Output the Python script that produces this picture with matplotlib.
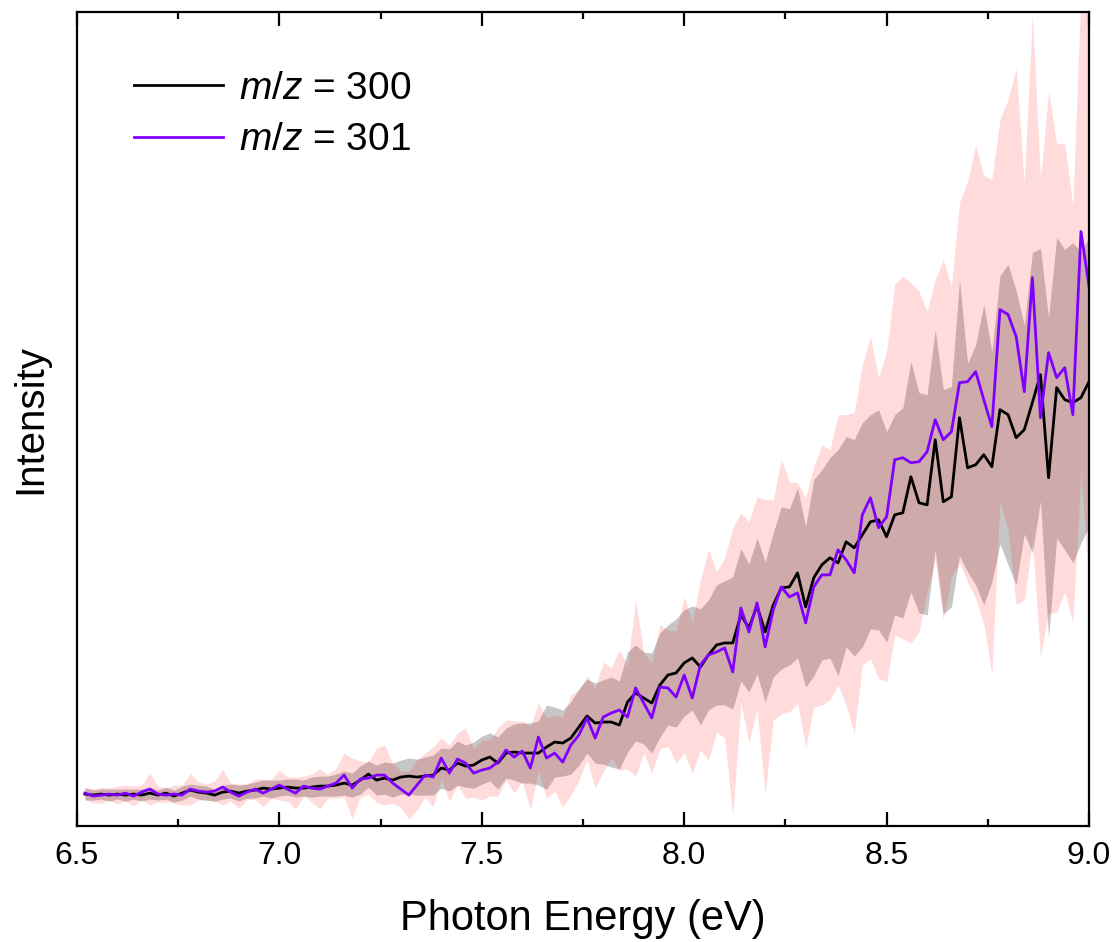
import numpy as np
import matplotlib
matplotlib.use("Agg")
import matplotlib.pyplot as plt
from matplotlib.ticker import MultipleLocator

plt.rcParams['font.family'] = ['Liberation Sans', 'DejaVu Sans']
plt.rcParams['mathtext.fontset'] = 'custom'
plt.rcParams['mathtext.rm'] = 'Liberation Sans'
plt.rcParams['mathtext.it'] = 'Liberation Sans:italic'

# photon energy axis, 6.52 .. 9.00 eV in 0.02 eV steps
energy = np.round(np.arange(6.52, 9.0001, 0.02), 2)

# m/z = 300 (black), counts
mz300 = [1, 0, 1, 0, 1, 0, 1, 0, 2, 0, 2, -1, 2, 5, 3, 2, 0, 3, 4, 2, 4, 5, 7, 6, 7,
         8, 7, 7, 8, 9, 9, 10, 12, 10, 15, 21, 15, 17, 15, 18, 19, 18, 19, 20, 27, 25, 32, 29, 30, 35,
         38, 32, 42, 43, 42, 42, 42, 48, 53, 52, 57, 68, 79, 72, 73, 73, 70, 93, 102, 97, 92, 110, 120, 122, 132,
         137, 128, 140, 150, 152, 152, 180, 167, 189, 163, 190, 207, 208, 222, 188, 217, 230, 237, 232, 253, 247, 260, 273, 275, 258,
         280, 282, 318, 292, 290, 355, 293, 298, 377, 327, 330, 340, 328, 385, 380, 357, 365, 392, 420, 317, 407, 395, 392, 397, 413]
mz300_err = [6, 5, 5, 6, 5, 6, 5, 6, 6, 5, 6, 6, 7, 6, 7, 7, 6, 7, 7, 8, 7, 8, 8, 9, 8,
             8, 9, 8, 10, 10, 10, 11, 12, 12, 14, 13, 15, 16, 17, 17, 18, 18, 19, 20, 20, 21, 22, 21, 23, 24,
             24, 26, 25, 28, 30, 30, 32, 42, 35, 33, 36, 38, 37, 40, 42, 45, 44, 50, 48, 46, 50, 52, 50, 54, 53,
             52, 58, 55, 60, 62, 66, 66, 64, 68, 70, 72, 81, 78, 85, 80, 98, 95, 100, 113, 105, 108, 112, 107, 110, 105,
             100, 105, 115, 110, 110, 110, 112, 110, 138, 104, 120, 150, 115, 134, 150, 147, 104, 150, 126, 160, 150, 150, 160, 145, 145]

# m/z = 301 (purple)
mz301 = [2, -1, 0, 1, 0, 2, -1, 3, 6, 1, 0, 1, 0, 6, 4, 3, 4, 8, 3, -1, 3, 6, 2, 6, 10,
         6, 2, 9, 7, 6, 9, 12, 20, 7, 16, 17, 20, 20, 12, 6, 0, 10, 20, 18, 37, 22, 36, 32, 22, 25,
         27, 33, 45, 38, 44, 27, 58, 37, 42, 33, 50, 60, 77, 57, 78, 82, 85, 78, 107, 92, 77, 108, 107, 98, 120,
         97, 130, 140, 143, 147, 123, 187, 163, 192, 148, 185, 208, 198, 202, 172, 208, 220, 220, 245, 235, 222, 280, 297, 267, 278,
         335, 337, 332, 333, 343, 375, 355, 363, 412, 413, 423, 395, 368, 485, 480, 458, 403, 517, 377, 442, 417, 427, 380, 563, 508]
mz301_err = [6, 7, 8, 6, 9, 8, 10, 7, 16, 8, 7, 9, 10, 16, 9, 8, 10, 18, 9, 12, 8, 10, 14, 9, 15,
             12, 16, 10, 14, 20, 12, 15, 22, 30, 18, 16, 27, 30, 20, 18, 24, 25, 22, 30, 20, 28, 26, 35, 24, 30,
             28, 34, 30, 36, 30, 42, 34, 40, 38, 45, 50, 45, 42, 50, 55, 45, 60, 52, 88, 50, 55, 62, 58, 66, 78,
             75, 85, 105, 80, 90, 144, 95, 110, 106, 147, 110, 127, 115, 110, 125, 120, 130, 125, 135, 145, 160, 150, 161, 150, 165,
             175, 181, 180, 170, 140, 140, 180, 145, 180, 200, 226, 224, 247, 190, 215, 268, 208, 263, 238, 261, 234, 224, 208, 240, 300]

mz300 = np.array(mz300)
mz301 = np.array(mz301)
mz300_err = np.array(mz300_err)
mz301_err = np.array(mz301_err)

fig = plt.figure(figsize=(11.14, 9.42), dpi=100)
ax = fig.add_axes([0.069, 0.123, 0.9086, 0.864])

ax.fill_between(energy, mz300 - mz300_err, mz300 + mz300_err, color='#c6c6c6', lw=0)
ax.fill_between(energy, mz301 - mz301_err, mz301 + mz301_err, color='red', alpha=0.14, lw=0)
ax.plot(energy, mz300, color='black', lw=2.0, label=r'$\it{m/z}$ = 300')
ax.plot(energy, mz301, color='#7f00ff', lw=2.0, label=r'$\it{m/z}$ = 301')

ax.set_xlim(6.5, 9.0)
ax.set_ylim(-31, 782)
ax.xaxis.set_major_locator(MultipleLocator(0.5))
ax.xaxis.set_minor_locator(MultipleLocator(0.25))
ax.xaxis.set_major_formatter(matplotlib.ticker.FormatStrFormatter('%.1f'))
ax.tick_params(axis='x', which='both', direction='in', top=True, bottom=True, labelsize=23, pad=11, width=1.6)
ax.tick_params(axis='x', which='major', length=10)
ax.tick_params(axis='x', which='minor', length=5)
ax.set_yticks([])
for s in ax.spines.values():
    s.set_linewidth(1.6)

ax.set_xlabel('Photon Energy (eV)', fontsize=30, labelpad=20)
ax.set_ylabel('Intensity', fontsize=29, labelpad=20)

leg = ax.legend(loc='upper left', frameon=False, fontsize=28, handlelength=2.3,
                bbox_to_anchor=(0.056, 0.928), borderaxespad=0, borderpad=0,
                labelspacing=0.4, handletextpad=0.4)

fig.savefig('out.png', dpi=100)
